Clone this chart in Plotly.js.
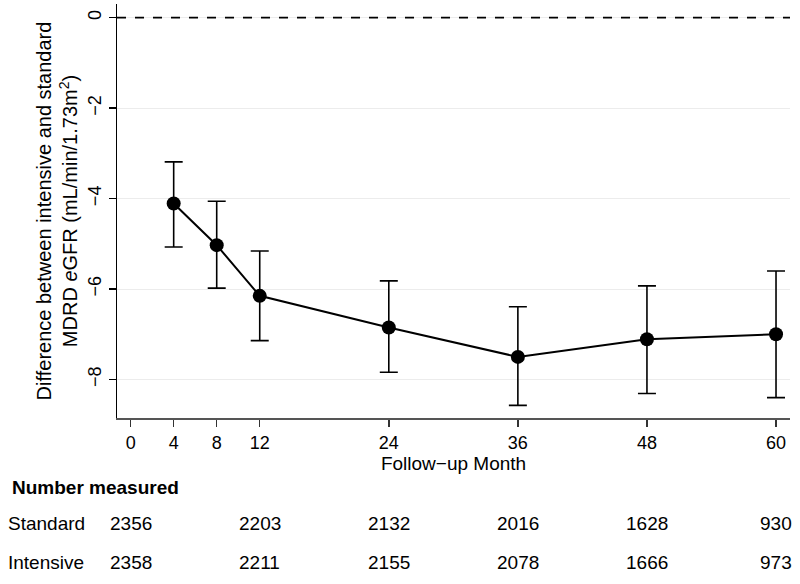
<!DOCTYPE html>
<html>
<head>
<meta charset="utf-8">
<script src="https://cdn.plot.ly/plotly-3.0.1.min.js"></script>
<style>html,body{margin:0;padding:0;background:#fff;}#chart{width:800px;height:584px;}</style>
</head>
<body>
<div id="chart"></div>
<script>
// Data
const months = [4, 8, 12, 24, 36, 48, 60];
const diff = [-4.11, -5.03, -6.15, -6.85, -7.50, -7.11, -7.00];
const upper = [-3.19, -4.06, -5.16, -5.82, -6.39, -5.93, -5.60];
const lower = [-5.07, -5.98, -7.14, -7.84, -8.57, -8.31, -8.40];
const xTicks = [0, 4, 8, 12, 24, 36, 48, 60];
const yTicks = [0, -2, -4, -6, -8];
const tableMonths = [0, 12, 24, 36, 48, 60];
const standardN = [2356, 2203, 2132, 2016, 1628, 930];
const intensiveN = [2358, 2211, 2155, 2078, 1666, 973];

const plus = diff.map((d, i) => upper[i] - d);
const minus = diff.map((d, i) => d - lower[i]);

const font = 'Liberation Sans, Arial, Helvetica, sans-serif';
const tsize = 18;

const trace = {
  x: months, y: diff, type: 'scatter', mode: 'lines+markers',
  line: {color: '#000', width: 2},
  marker: {color: '#000', size: 14},
  error_y: {type: 'data', symmetric: false, array: plus, arrayminus: minus,
            color: '#000', thickness: 1.6, width: 9},
  hoverinfo: 'skip', showlegend: false
};

const rowY = [-0.167, -0.256, -0.350];
const annotations = [
  {xref: 'paper', yref: 'paper', x: -0.159, y: rowY[0], xanchor: 'left', yanchor: 'middle',
   text: '<b>Number measured</b>', showarrow: false, font: {family: font, size: 19, color: '#000'}},
  {xref: 'paper', yref: 'paper', x: -0.165, y: rowY[1], xanchor: 'left', yanchor: 'middle',
   text: 'Standard', showarrow: false, font: {family: font, size: tsize + 1, color: '#000'}},
  {xref: 'paper', yref: 'paper', x: -0.165, y: rowY[2], xanchor: 'left', yanchor: 'middle',
   text: 'Intensive', showarrow: false, font: {family: font, size: tsize + 1, color: '#000'}}
];
tableMonths.forEach((m, i) => {
  annotations.push({xref: 'x', yref: 'paper', x: m, y: rowY[1], xanchor: 'center', yanchor: 'middle',
    text: String(standardN[i]), showarrow: false, font: {family: font, size: tsize + 1, color: '#000'}});
  annotations.push({xref: 'x', yref: 'paper', x: m, y: rowY[2], xanchor: 'center', yanchor: 'middle',
    text: String(intensiveN[i]), showarrow: false, font: {family: font, size: tsize + 1, color: '#000'}});
});

const layout = {
  width: 800, height: 584,
  margin: {l: 117, r: 10, t: 4, b: 166},
  paper_bgcolor: '#fff', plot_bgcolor: '#fff',
  font: {family: font, size: tsize, color: '#000'},
  xaxis: {
    range: [-1.27, 61.3], tickmode: 'array', tickvals: xTicks, ticktext: xTicks.map(String),
    ticks: 'outside', ticklen: 7, tickwidth: 1.5, tickcolor: '#333',
    showline: true, linecolor: '#555', linewidth: 2, showgrid: false, zeroline: false,
    title: {text: 'Follow\u2212up Month', font: {family: font, size: 19}, standoff: 2},
    tickfont: {family: font, size: tsize}
  },
  yaxis: {
    range: [-8.85, 0.30], tickmode: 'array', tickvals: yTicks,
    ticktext: yTicks.map(v => v < 0 ? '\u2212' + Math.abs(v) : String(v)),
    tickangle: -90, ticks: 'outside', ticklen: 7, tickwidth: 1.5, tickcolor: '#000',
    showline: true, linecolor: '#000', linewidth: 1.5,
    showgrid: true, gridcolor: '#ececec', gridwidth: 1, zeroline: false,
    title: {text: 'Difference between intensive and standard<br>MDRD <i>e</i>GFR (mL/min/1.73m<sup>2</sup>)',
            font: {family: font, size: 20}, standoff: 2},
    tickfont: {family: font, size: tsize}
  },
  shapes: [{type: 'line', xref: 'paper', x0: 0, x1: 1, yref: 'y', y0: 0, y1: 0,
            line: {color: '#000', width: 1.8, dash: 'dash'}}],
  annotations: annotations
};

Plotly.newPlot('chart', [trace], layout, {staticPlot: true, displayModeBar: false});
</script>
</body>
</html>
